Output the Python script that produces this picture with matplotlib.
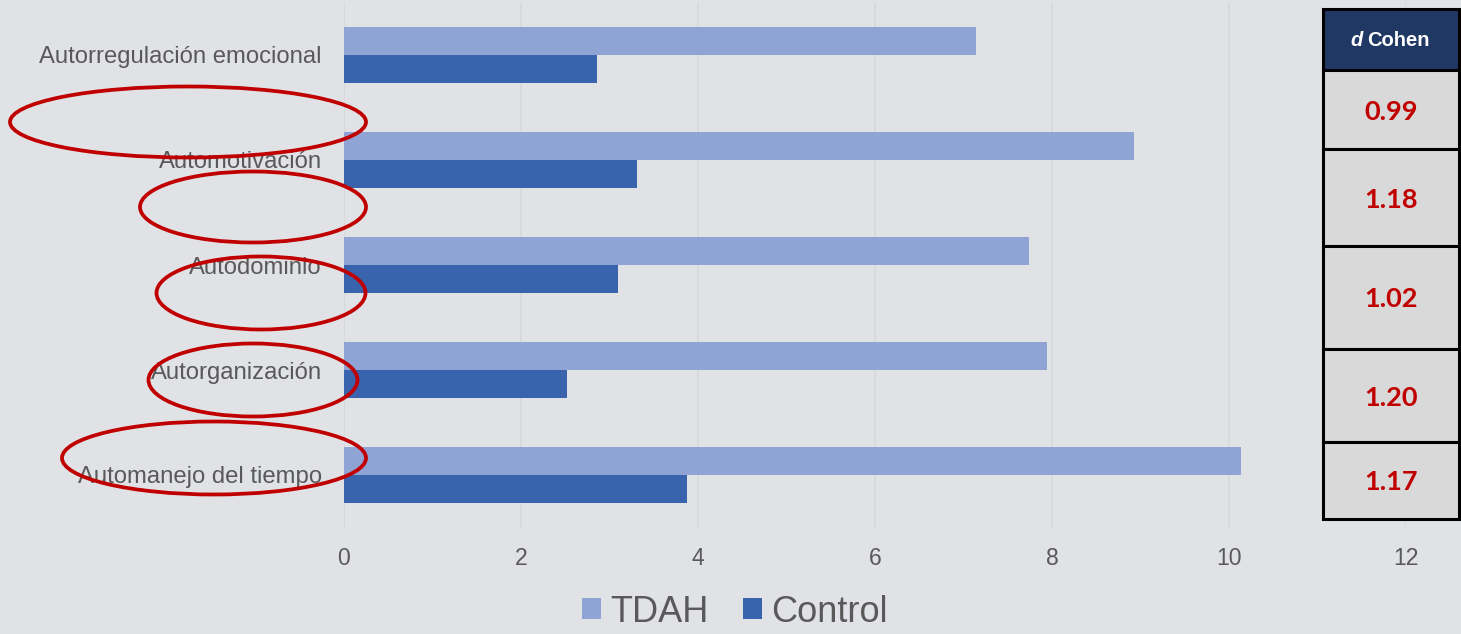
import matplotlib
matplotlib.use("Agg")
import matplotlib.pyplot as plt
from matplotlib.patches import Ellipse, Rectangle, Patch
import numpy as np

plt.rcParams['font.family'] = ['Liberation Sans', 'DejaVu Sans']

# datos
categorias = ["Autorregulación emocional", "Automotivación", "Autodominio",
              "Autorganización", "Automanejo del tiempo"]
tdah = [7.14, 8.93, 7.74, 7.94, 10.14]
control = [2.86, 3.31, 3.10, 2.52, 3.88]
d_cohen = ["0.99", "1.18", "1.02", "1.20", "1.17"]
xticks = [0, 2, 4, 6, 8, 10, 12]

W, H = 1461, 634
bg = "#e1e2e6"
gris = "#595959"
c_tdah = "#8fa3d5"
c_control = "#3a63ad"
rojo = "#c00000"

fig = plt.figure(figsize=(W / 100, H / 100), dpi=100, facecolor=bg)
ax = fig.add_axes([344 / W, 1 - 527.5 / H, (1406 - 344) / W, 525 / H])
ax.set_facecolor(bg)

y = np.arange(len(categorias))
h = 0.262
ax.barh(y - h / 2, tdah, height=h, color=c_tdah, zorder=3)
ax.barh(y + h / 2, control, height=h, color=c_control, zorder=3)

ax.set_xlim(0, 12)
ax.set_ylim(len(categorias) - 0.5, -0.5)
ax.set_xticks(xticks)
ax.set_xticklabels([str(t) for t in xticks])
ax.set_yticks(y)
ax.set_yticklabels(categorias)
ax.tick_params(axis='x', length=0, pad=14, labelsize=16.5, labelcolor=gris)
ax.tick_params(axis='y', length=0, pad=16, labelsize=17.2, labelcolor=gris)
ax.grid(axis='x', color="#d8d9dc", linewidth=1.3, zorder=0)
for s in ax.spines.values():
    s.set_visible(False)


def px(x, y_):
    return x / W, 1 - y_ / H


# tabla d Cohen
fig_tr = fig.transFigure
bordes = [70, 149, 246, 349, 442, 519]
x0, x1 = 1323, 1459
fig.patches.append(Rectangle(px(x0, 70), (x1 - x0) / W, (70 - 9) / H, transform=fig_tr,
                             facecolor="#203864", edgecolor="black", linewidth=2.2, zorder=5))
for i, val in enumerate(d_cohen):
    top, bot = bordes[i], bordes[i + 1]
    fig.patches.append(Rectangle(px(x0, bot), (x1 - x0) / W, (bot - top) / H, transform=fig_tr,
                                 facecolor="#d9d9d9", edgecolor="black", linewidth=2.2, zorder=5))
    fig.text(*px((x0 + x1) / 2, (top + bot) / 2 + 2), val, ha='center', va='center',
             fontsize=19.5, fontweight='bold', color=rojo, family=['Lato', 'DejaVu Sans'], zorder=6)
fig.text(*px(1363, 41), "d", ha='right', va='center', fontsize=14.5, fontweight='bold',
         fontstyle='italic', color='white', zorder=6)
fig.text(*px(1367, 41), "Cohen", ha='left', va='center', fontsize=14.5, fontweight='bold',
         color='white', zorder=6)

# elipses rojas
elipses = [(188, 122, 356, 71), (253, 207, 226, 71), (261, 293, 209, 73),
           (253, 380, 209, 73), (214, 458, 304, 73)]
for cx, cy, ew, eh in elipses:
    fig.patches.append(Ellipse(px(cx, cy), ew / W, eh / H, transform=fig_tr,
                               fill=False, edgecolor=rojo, linewidth=2.7, zorder=7))

# leyenda
handles = [Patch(facecolor=c_tdah, label="TDAH"), Patch(facecolor=c_control, label="Control")]
leg = fig.legend(handles=handles, loc='center', bbox_to_anchor=px(735, 612), ncol=2,
                 frameon=False, fontsize=26, handlelength=0.53, handleheight=0.53,
                 handletextpad=0.25, columnspacing=0.95, borderpad=0)
for t in leg.get_texts():
    t.set_color(gris)

fig.savefig("out.png", dpi=100, facecolor=bg)
